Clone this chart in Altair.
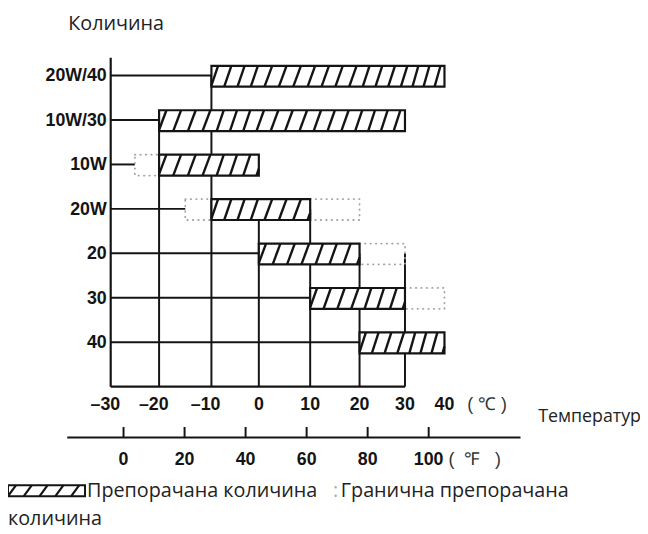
import altair as alt
import pandas as pd

# ---------------- data ----------------
grades = ["20W/40", "10W/30", "10W", "20W", "20", "30", "40"]
rec_lo = [-10, -20, -20, -10, 0, 10, 20]          # recommended range start (°C)
rec_hi = [40, 30, 0, 10, 20, 30, 40]              # recommended range end (°C)
leader_end = [-10, -20, -25, -15, 0, 10, 20]      # where each row's leader line stops

lim_grade = ["10W", "20W", "20W", "20", "30"]     # dotted "limit" boxes
lim_lo = [-25, -15, 10, 20, 30]
lim_hi = [-20, -10, 20, 30, 40]

grid_temp = [-20, -10, 0, 10, 20, 30]             # vertical grid lines
grid_from = ["10W/30", "20W/40", "20W", "20W", "20", "20"]
frame_right = 30

c_ticks = [-30, -20, -10, 0, 10, 20, 30, 40]
c_labels = ["–30", "–20", "–10", "0", "10", "20", "30", "40"]
f_ticks = [0, 20, 40, 60, 80, 100]
f_labels = ["0", "20", "40", "60", "80", "100"]

# ---------------- layout / style ----------------
W, H = 640, 526
INK = "#141414"
SANS = "Open Sans"
BOLD = "Liberation Sans"

# the scanned chart's °C scale is slightly uneven: piecewise-linear pixel stops
C_STOPS = [104, 153, 206, 254, 306, 356, 402, 442]
C = alt.Scale(domain=c_ticks, range=C_STOPS, nice=False, zero=False)
R = alt.Scale(domain=[0, 7], range=[65.1, 380.1], nice=False, zero=False)
F = alt.Scale(domain=[0, 100], range=[117, 426], nice=False, zero=False)
PX = alt.Scale(domain=[0, W], range=[0, W], nice=False, zero=False)
PY = alt.Scale(domain=[0, H], range=[0, H], nice=False, zero=False)

BAR_TOP, BAR_BOT = -0.22, 0.25


def hatch(lo, hi, top, bot, spacing, slant):
    segs = []
    s = lo - slant + spacing * 0.5
    while s < hi:
        t0 = max(0.0, (lo - s) / slant)
        t1 = min(1.0, (hi - s) / slant)
        if t1 > t0:
            segs.append((s + slant * t0, bot + (top - bot) * t0,
                         s + slant * t1, bot + (top - bot) * t1))
        s += spacing
    return segs


row_of = {g: i for i, g in enumerate(grades)}
bottom_row = len(grades)

bars = pd.DataFrame({"grade": grades, "lo": rec_lo, "hi": rec_hi})
bars["row"] = bars["grade"].map(row_of)
bars["top"] = bars["row"] + BAR_TOP
bars["bot"] = bars["row"] + BAR_BOT

hsegs = []
for _, b in bars.iterrows():
    hsegs += hatch(b["lo"], b["hi"], b["top"], b["bot"], 2.8, 1.5)
hatch_df = pd.DataFrame(hsegs, columns=["x", "y", "x2", "y2"])

lims = pd.DataFrame({"grade": lim_grade, "lo": lim_lo, "hi": lim_hi})
lims["row"] = lims["grade"].map(row_of)
lims["top"] = lims["row"] + BAR_TOP
lims["bot"] = lims["row"] + BAR_BOT

leaders = pd.DataFrame({"row": list(range(len(grades))), "x2": leader_end})
leaders["x"] = c_ticks[0]

grid = pd.DataFrame({"x": grid_temp, "top": [row_of[g] for g in grid_from]})
grid["bot"] = bottom_row

clab = pd.DataFrame({"tick": c_ticks, "label": c_labels})
clab["pos"] = [t - 1.1 if t < 0 else t for t in c_ticks]
flab = pd.DataFrame({"f": f_ticks, "label": f_labels})

one = pd.DataFrame({"a": [0]})


def xc(f):
    return alt.X(f, type="quantitative", scale=C, axis=None)


def yr(f):
    return alt.Y(f, type="quantitative", scale=R, axis=None)


layers = []

# y axis line
layers.append(alt.Chart(pd.DataFrame({"x": [c_ticks[0]]})).mark_rule(color=INK, strokeWidth=2.2)
              .encode(x=xc("x"), y=alt.value(47), y2=alt.value(380.1)))
# bottom frame
layers.append(alt.Chart(pd.DataFrame({"x": [c_ticks[0]], "x2": [frame_right], "row": [bottom_row]}))
              .mark_rule(color=INK, strokeWidth=2.4)
              .encode(x=xc("x"), x2=alt.X2("x2"), y=yr("row")))
# leader lines
layers.append(alt.Chart(leaders).mark_rule(color=INK, strokeWidth=2)
              .encode(x=xc("x"), x2=alt.X2("x2"), y=yr("row")))
# vertical grid
layers.append(alt.Chart(grid).mark_rule(color=INK, strokeWidth=2)
              .encode(x=xc("x"), y=yr("top"), y2=alt.Y2("bot")))
# dotted limit boxes
layers.append(alt.Chart(lims).mark_rect(fillOpacity=0, stroke="#a4a4a4", strokeWidth=1.8,
                                        strokeDash=[0.5, 5], strokeCap="round")
              .encode(x=xc("lo"), x2=alt.X2("hi"), y=yr("top"), y2=alt.Y2("bot")))
# recommended bars
layers.append(alt.Chart(bars).mark_rect(fill="white", stroke=INK, strokeWidth=2.2)
              .encode(x=xc("lo"), x2=alt.X2("hi"), y=yr("top"), y2=alt.Y2("bot")))
layers.append(alt.Chart(hatch_df).mark_rule(color=INK, strokeWidth=2.4)
              .encode(x=xc("x"), x2=alt.X2("x2"), y=yr("y"), y2=alt.Y2("y2")))
# grade labels
layers.append(alt.Chart(bars).mark_text(align="right", baseline="middle", font=BOLD, fontSize=18,
                                        fontWeight="bold", color=INK, dy=1)
              .encode(x=alt.value(100), y=yr("row"), text="grade:N"))
# celsius labels
layers.append(alt.Chart(clab).mark_text(align="center", baseline="alphabetic", font=BOLD, fontSize=18,
                                        fontWeight="bold", color=INK)
              .encode(x=xc("pos"), y=alt.value(404), text="label:N"))
layers.append(alt.Chart(pd.DataFrame({"t": ["(\u00a0℃\u00a0)"]}))
              .mark_text(align="left", baseline="alphabetic", font=BOLD, fontSize=18, color="#333")
              .encode(x=alt.value(465), y=alt.value(404), text="t:N"))
# fahrenheit axis
layers.append(alt.Chart(one).mark_rule(color=INK, strokeWidth=2)
              .encode(x=alt.value(60), x2=alt.value(519), y=alt.value(431.5)))
layers.append(alt.Chart(flab).mark_rule(color=INK, strokeWidth=2)
              .encode(x=alt.X("f:Q", scale=F, axis=None), y=alt.value(421), y2=alt.value(431.5)))
layers.append(alt.Chart(flab).mark_text(align="center", baseline="alphabetic", font=BOLD, fontSize=18,
                                        fontWeight="bold", color=INK)
              .encode(x=alt.X("f:Q", scale=F, axis=None), y=alt.value(459), text="label:N"))
layers.append(alt.Chart(pd.DataFrame({"t": ["(\u00a0\u00a0℉\u00a0\u00a0\u00a0)"]}))
              .mark_text(align="left", baseline="alphabetic", font=BOLD, fontSize=18, color="#333")
              .encode(x=alt.value(446), y=alt.value(459), text="t:N"))
# titles
layers.append(alt.Chart(pd.DataFrame({"t": ["Количина"]}))
              .mark_text(align="left", baseline="alphabetic", font=SANS, fontSize=20, color="#222")
              .encode(x=alt.value(61), y=alt.value(19), text="t:N"))
layers.append(alt.Chart(pd.DataFrame({"t": ["Температур"]}))
              .mark_text(align="left", baseline="alphabetic", font=SANS, fontSize=18, color="#222")
              .encode(x=alt.value(537), y=alt.value(416), text="t:N"))

# legend
leg_box = pd.DataFrame({"x": [0], "x2": [78], "y": [480], "y2": [491]})
leg_h = pd.DataFrame(hatch(0, 78, 480, 491, 16, 8), columns=["x", "y", "x2", "y2"])
layers.append(alt.Chart(leg_box).mark_rect(fill="white", stroke=INK, strokeWidth=2)
              .encode(x=alt.X("x:Q", scale=PX, axis=None), x2="x2:Q",
                      y=alt.Y("y:Q", scale=PY, axis=None), y2="y2:Q"))
layers.append(alt.Chart(leg_h).mark_rule(color=INK, strokeWidth=2.2)
              .encode(x=alt.X("x:Q", scale=PX, axis=None), x2="x2:Q",
                      y=alt.Y("y:Q", scale=PY, axis=None), y2="y2:Q"))
leg_text = pd.DataFrame({
    "t": ["Препорачана количина", ":", "Гранична препорачана", "количина"],
    "x": [80, 329, 337, 0],
    "y": [492, 492, 492, 520],
    "c": ["#222", "#aaa", "#222", "#222"],
})
layers.append(alt.Chart(leg_text).mark_text(align="left", baseline="alphabetic", font=SANS, fontSize=20)
              .encode(x=alt.X("x:Q", scale=PX, axis=None), y=alt.Y("y:Q", scale=PY, axis=None),
                      text="t:N", color=alt.Color("c:N", scale=None)))

chart = (alt.layer(*layers)
         .resolve_scale(x="independent", y="independent")
         .properties(width=W, height=H, autosize=alt.AutoSizeParams(type="none"), padding=0,
                     background="white")
         .configure_view(strokeWidth=0))

chart.save("out.html", embed_options={"renderer": "svg", "actions": False})
